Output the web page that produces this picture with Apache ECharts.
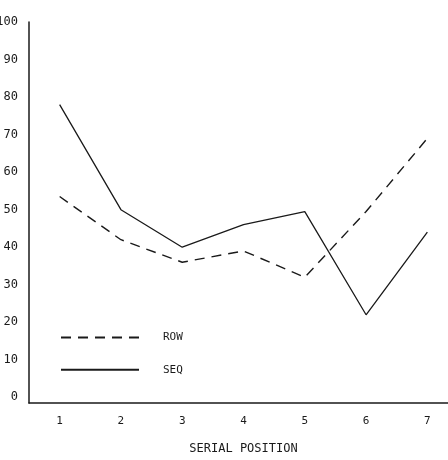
<!DOCTYPE html>
<html>
<head>
<meta charset="utf-8">
<script src="https://cdn.jsdelivr.net/npm/echarts@6/dist/echarts.min.js"></script>
<style>
  html, body { margin: 0; padding: 0; background: #fff; }
  #chart { width: 448px; height: 460px; }
</style>
</head>
<body>
<div id="chart"></div>
<script>
"use strict";

// ── Datos ──────────────────────────────────────────────────────────────
const positions = ["1", "2", "3", "4", "5", "6", "7"];
const rowValues = [53.5, 42, 36, 39, 32, 49.5, 69];
const seqValues = [78, 50, 40, 46, 49.5, 22, 44];
const yTicks = [0, 10, 20, 30, 40, 50, 60, 70, 80, 90, 100];

const INK = "#1a1a1a";
const FONT = "'DejaVu Sans Mono', monospace";

const chart = echarts.init(document.getElementById("chart"), null, { renderer: "canvas" });

chart.setOption({
  animation: false,
  backgroundColor: "#fff",
  grid: { left: 29, top: 22, width: 429, bottom: 57, outerBoundsMode: "none", containLabel: false },
  legend: {
    orient: "vertical",
    left: 60, top: 332, padding: 0,
    itemWidth: 78, itemHeight: 14, itemGap: 21,
    itemStyle: { opacity: 0 },
    textStyle: { fontFamily: FONT, fontSize: 11, color: INK, padding: [0, 0, 0, 19] },
    data: ["ROW", "SEQ"],
  },
  xAxis: {
    type: "category",
    data: positions,
    boundaryGap: true,
    name: "SERIAL POSITION",
    nameLocation: "middle",
    nameGap: 40,
    nameTextStyle: { fontFamily: FONT, fontSize: 12, color: INK },
    axisLine: { onZero: false, lineStyle: { color: INK, width: 1.5 } },
    axisTick: { show: false },
    axisLabel: { fontFamily: FONT, fontSize: 11, color: INK, margin: 13 },
    splitLine: { show: false },
  },
  yAxis: {
    type: "value",
    min: -1.5, max: 100,
    axisLine: { show: true, lineStyle: { color: INK, width: 1.5 } },
    axisTick: { show: false },
    axisLabel: {
      fontFamily: FONT, fontSize: 12, color: INK, margin: 11,
      customValues: yTicks,
    },
    splitLine: { show: false },
  },
  series: [
    {
      name: "ROW", type: "line", data: rowValues,
      symbol: "none",
      lineStyle: { color: INK, width: 1.4, type: [10, 7] },
      itemStyle: { color: INK },
    },
    {
      name: "SEQ", type: "line", data: seqValues,
      symbol: "none",
      lineStyle: { color: INK, width: 1.3 },
      itemStyle: { color: INK },
    },
  ],
});
</script>
</body>
</html>
